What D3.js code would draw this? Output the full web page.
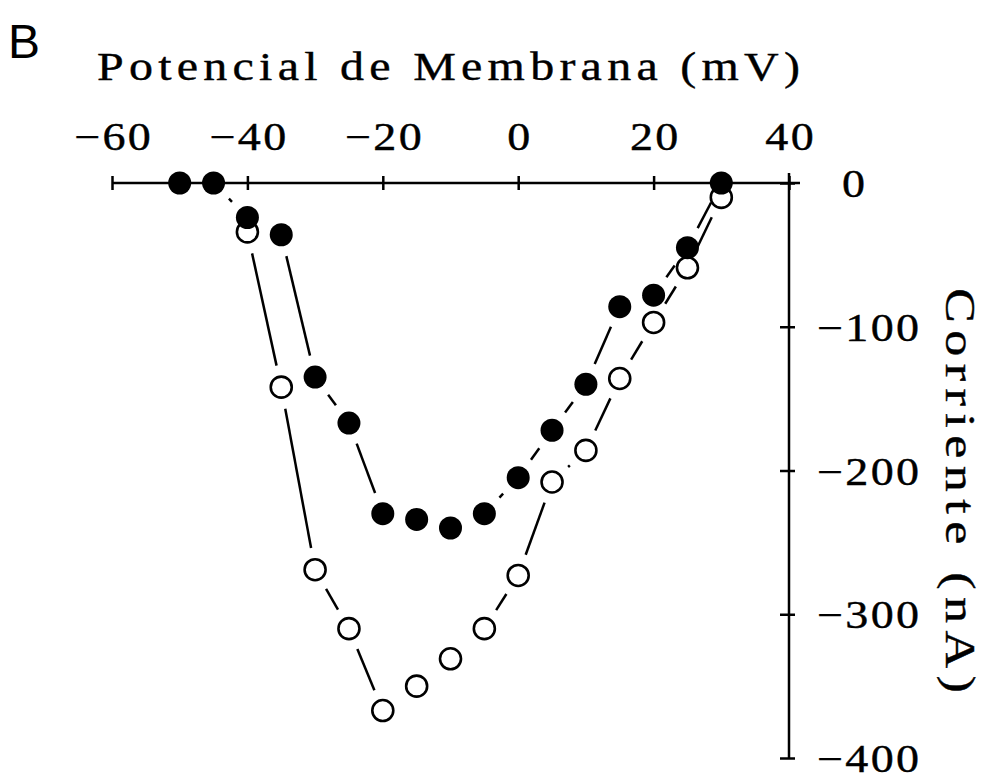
<!DOCTYPE html>
<html>
<head>
<meta charset="utf-8">
<script src="https://cdn.jsdelivr.net/npm/d3@7"></script>
<style>
  html, body { margin: 0; padding: 0; background: #fff; }
  svg { display: block; }
  text { fill: #000; }
</style>
</head>
<body>
<svg id="chart" width="990" height="783"></svg>
<script>
// ---- data ----
const voltages = [-50, -45, -40, -35, -30, -25, -20, -15, -10, -5, 0, 5, 10, 15, 20, 25, 30];
const filledCurrent = [0, 0, -24, -36, -135, -167, -230, -234, -240, -230, -205, -172, -140, -86, -78, -45, 0];
const openVoltages = [-40, -35, -30, -25, -20, -15, -10, -5, 0, 5, 10, 15, 20, 25, 30];
const openCurrent = [-34, -142, -269, -310, -367, -350, -331, -310, -273, -208, -186, -136, -97, -59, -10];
const xTicks = [-60, -40, -20, 0, 20, 40];
const yTicks = [0, -100, -200, -300, -400];
const xTitle = "Potencial de Membrana (mV)";
const yTitle = "Corriente (nA)";
const panelLabel = "B";

// ---- drawing ----
const svg = d3.select("#chart");
const serif = "'Liberation Serif', 'DejaVu Serif', serif";
const x = d3.scaleLinear().domain([-60, 40]).range([112, 789]);
const y = d3.scaleLinear().domain([0, -400]).range([183, 758]);
const SX = 1.18; // horizontal stretch for typewriter-like digits

// x axis (on top, at y=0)
const gx = svg.append("g").attr("transform", `translate(0,${y(0)})`)
  .call(d3.axisTop(x).tickValues(xTicks).tickSize(8).tickPadding(25).tickSizeOuter(0)
        .tickFormat(d => d3.format("")(d)));
gx.select(".domain").remove();
gx.selectAll(".tick line").attr("y1", -7).attr("y2", 7).attr("stroke", "#000").attr("stroke-width", 2.5);
gx.selectAll(".tick text").attr("font-family", serif).attr("font-size", 39).attr("fill", "#000")
  .attr("stroke", "#000").attr("stroke-width", 0.4)
  .attr("letter-spacing", 2).attr("y", -33).attr("dy", 0).attr("x", 1)
  .attr("transform", `scale(${SX},1)`);
gx.append("line").attr("x1", x(-60)).attr("x2", x(40) + 11).attr("y1", 0).attr("y2", 0)
  .attr("stroke", "#000").attr("stroke-width", 2.5);

// y axis (on right, at x=40)
const gy = svg.append("g").attr("transform", `translate(${x(40)},0)`)
  .call(d3.axisRight(y).tickValues(yTicks).tickSize(5).tickPadding(24).tickSizeOuter(0)
        .tickFormat(d => d3.format("")(d)));
gy.select(".domain").remove();
gy.selectAll(".tick line").attr("x1", -9).attr("x2", 6).attr("stroke", "#000").attr("stroke-width", 2.5);
gy.selectAll(".tick text").attr("font-family", serif).attr("font-size", 39).attr("fill", "#000")
  .attr("stroke", "#000").attr("stroke-width", 0.4)
  .attr("letter-spacing", 2).attr("dy", "0.35em").attr("x", d => (d === 0 ? 53 : 28) / SX)
  .attr("transform", `scale(${SX},1)`);
gy.append("line").attr("x1", 0).attr("x2", 0).attr("y1", y(0) - 10).attr("y2", y(-400))
  .attr("stroke", "#000").attr("stroke-width", 2.5);

// gapped connecting segments
function drawSegments(xs, ys, gap) {
  const pts = xs.map((v, i) => [x(v), y(ys[i])]);
  const segs = [];
  for (let i = 0; i < pts.length - 1; i++) {
    const [x1, y1] = pts[i], [x2, y2] = pts[i + 1];
    const d = Math.hypot(x2 - x1, y2 - y1);
    if (d > 2 * gap + 2) {
      const ux = (x2 - x1) / d, uy = (y2 - y1) / d;
      segs.push([x1 + ux * gap, y1 + uy * gap, x2 - ux * gap, y2 - uy * gap]);
    }
  }
  svg.append("g").selectAll("line").data(segs).join("line")
    .attr("x1", s => s[0]).attr("y1", s => s[1]).attr("x2", s => s[2]).attr("y2", s => s[3])
    .attr("stroke", "#000").attr("stroke-width", 2.5);
}
drawSegments(openVoltages, openCurrent, 22);
drawSegments(voltages, filledCurrent, 22);

// open circles
svg.append("g").selectAll("circle").data(openVoltages).join("circle")
  .attr("cx", d => x(d)).attr("cy", (d, i) => y(openCurrent[i])).attr("r", 10.5)
  .attr("fill", "#fff").attr("stroke", "#000").attr("stroke-width", 2.6);
// filled circles
svg.append("g").selectAll("circle").data(voltages).join("circle")
  .attr("cx", d => x(d)).attr("cy", (d, i) => y(filledCurrent[i])).attr("r", 11.5)
  .attr("fill", "#000");

// titles (stretched horizontally to typewriter width)
function stretchedText(tf, str, size, targetLen, spacing) {
  const g = svg.append("g").attr("transform", tf);
  const t = g.append("text").attr("font-family", serif).attr("font-size", size)
    .attr("letter-spacing", spacing).attr("stroke", "#000").attr("stroke-width", 0.4).text(str);
  const len = t.node().getComputedTextLength() - spacing;
  t.attr("transform", `scale(${targetLen / len},1)`);
}
stretchedText("translate(97,80)", xTitle, 41, 703, 4.5);
stretchedText("translate(946,288) rotate(90)", yTitle, 42, 405, 6);

svg.append("text").attr("x", 8).attr("y", 58).attr("font-family", "'Liberation Sans', Arial, sans-serif")
  .attr("font-size", 48).text(panelLabel);
</script>
</body>
</html>
